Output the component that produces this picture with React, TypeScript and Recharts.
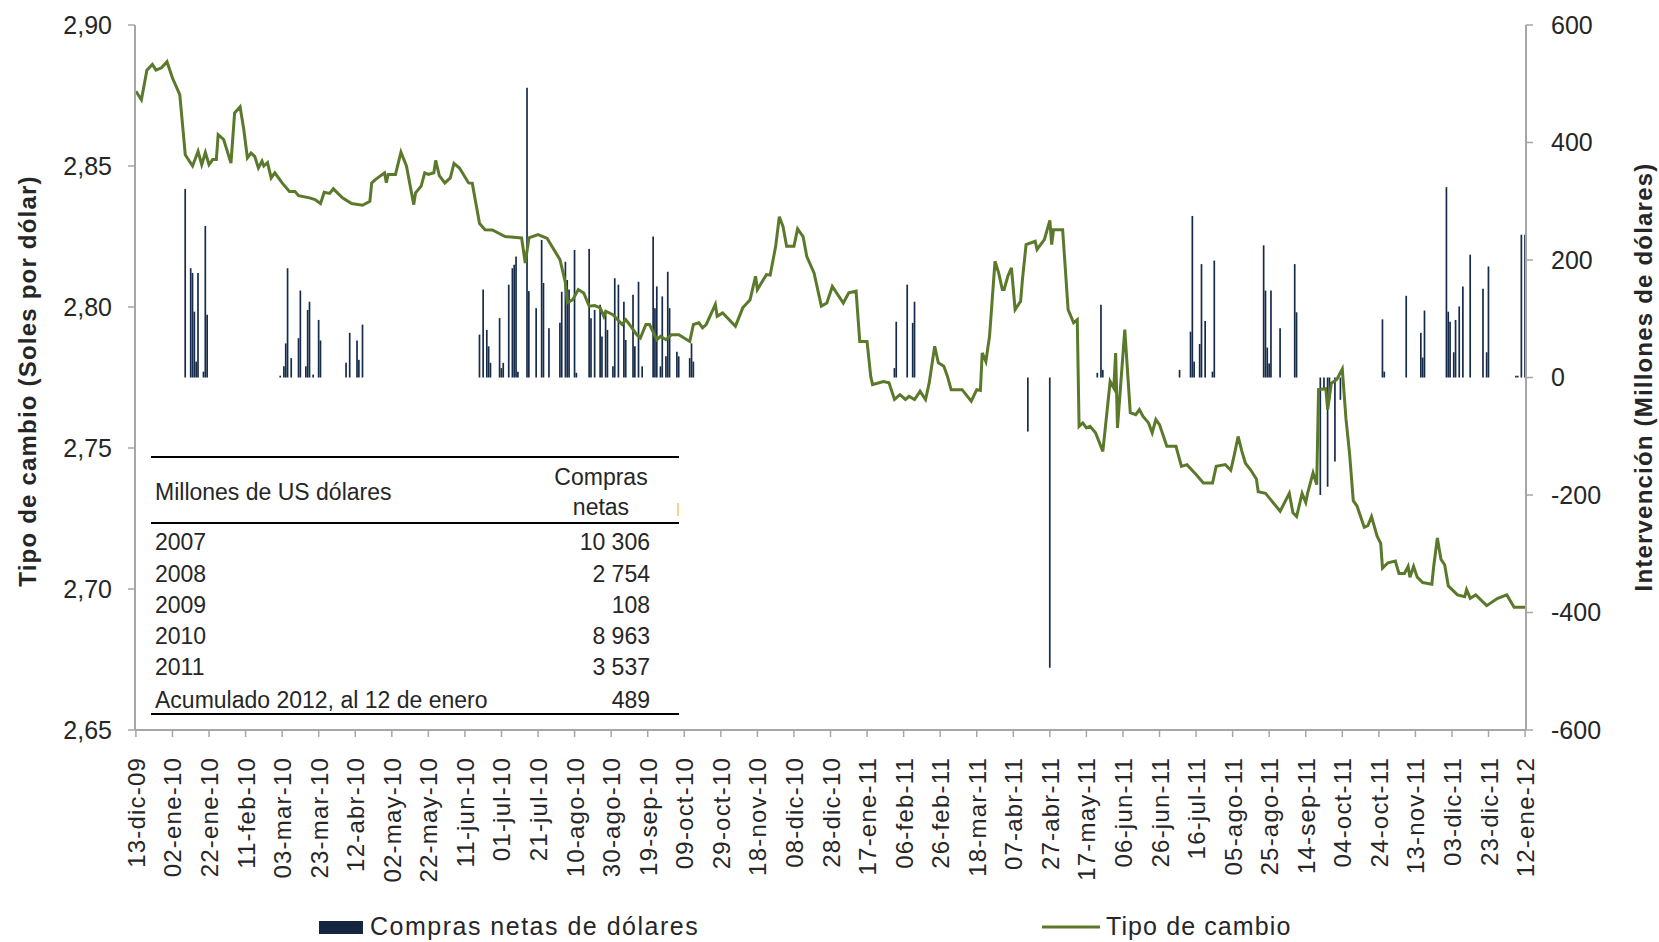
import { ComposedChart, Bar, Line, XAxis, YAxis } from "recharts";

// días desde el 13-dic-09 (0) hasta el 12-ene-12 (760)
const NUM_DIAS = 761;

const tickLabels = [
  "13-dic-09", "02-ene-10", "22-ene-10", "11-feb-10", "03-mar-10", "23-mar-10",
  "12-abr-10", "02-may-10", "22-may-10", "11-jun-10", "01-jul-10", "21-jul-10",
  "10-ago-10", "30-ago-10", "19-sep-10", "09-oct-10", "29-oct-10", "18-nov-10",
  "08-dic-10", "28-dic-10", "17-ene-11", "06-feb-11", "26-feb-11", "18-mar-11",
  "07-abr-11", "27-abr-11", "17-may-11", "06-jun-11", "26-jun-11", "16-jul-11",
  "05-ago-11", "25-ago-11", "14-sep-11", "04-oct-11", "24-oct-11", "13-nov-11",
  "03-dic-11", "23-dic-11", "12-ene-12",
];

const leftTicks = [2.65, 2.7, 2.75, 2.8, 2.85, 2.9];
const rightTicks = [-600, -400, -200, 0, 200, 400, 600];

// [día, soles por dólar]
const tipoCambio: [number, number][] = [
  [0, 2.8765], [3, 2.8735], [6, 2.884], [9, 2.886], [11, 2.884], [14, 2.8848], [17, 2.887],
  [20, 2.8812], [24, 2.8753], [27, 2.854], [31, 2.85], [34, 2.8552], [36, 2.8505], [38, 2.8548],
  [40, 2.8505], [42, 2.8523], [44, 2.8523], [45, 2.8611], [48, 2.8594], [52, 2.851], [54, 2.8688],
  [57, 2.871], [59, 2.863], [61, 2.8529], [63, 2.8546], [65, 2.8534], [67, 2.8493], [69, 2.8517],
  [70, 2.85], [72, 2.8512], [74, 2.8458], [76, 2.8476], [80, 2.844], [84, 2.841], [87, 2.841],
  [89, 2.8395], [95, 2.8387], [98, 2.8381], [101, 2.8367], [103, 2.8407], [106, 2.8403],
  [108, 2.8419], [113, 2.8387], [118, 2.8367], [124, 2.8361], [128, 2.8375], [129, 2.844],
  [131, 2.8452], [136, 2.8476], [137, 2.8441], [138, 2.847], [142, 2.847], [145, 2.8549],
  [148, 2.85], [152, 2.8363], [153, 2.8405], [156, 2.8428], [158, 2.8476], [160, 2.847],
  [163, 2.8476], [164, 2.852], [166, 2.8466], [169, 2.844], [172, 2.8458], [174, 2.8509],
  [177, 2.8493], [182, 2.844], [184, 2.8439], [188, 2.8296], [191, 2.8274], [195, 2.8273],
  [202, 2.825], [211, 2.8245], [213, 2.8156], [215, 2.8245], [220, 2.8257], [225, 2.8243],
  [232, 2.8168], [235, 2.8085], [236, 2.8015], [239, 2.8026], [242, 2.8062], [245, 2.805],
  [248, 2.8003], [251, 2.8005], [254, 2.7997], [256, 2.7967], [257, 2.7985], [261, 2.7973],
  [266, 2.7938], [268, 2.7955], [270, 2.7938], [274, 2.7902], [276, 2.789], [279, 2.7938],
  [281, 2.7938], [285, 2.7884], [287, 2.7896], [290, 2.7884], [293, 2.7902], [297, 2.7902],
  [303, 2.7878], [305, 2.7938], [308, 2.7944], [310, 2.7926], [312, 2.7938], [317, 2.8009],
  [318, 2.7967], [321, 2.7979], [328, 2.7932], [332, 2.7997], [336, 2.8026], [339, 2.8109],
  [340, 2.8062], [345, 2.8115], [347, 2.8113], [350, 2.8215], [352, 2.832], [354, 2.8286],
  [356, 2.8215], [360, 2.8215], [362, 2.8277], [365, 2.825], [367, 2.818], [371, 2.8121],
  [375, 2.8003], [378, 2.8014], [381, 2.8073], [387, 2.8014], [390, 2.805], [394, 2.8056],
  [396, 2.7878], [400, 2.7878], [402, 2.7754], [403, 2.7725], [409, 2.7736], [412, 2.7731],
  [415, 2.7672], [418, 2.7689], [421, 2.7672], [423, 2.7683], [426, 2.7672], [429, 2.7701],
  [432, 2.7672], [434, 2.7731], [437, 2.7861], [439, 2.7802], [442, 2.779], [444, 2.7754],
  [446, 2.7707], [452, 2.7707], [457, 2.7666], [460, 2.7707], [462, 2.7704], [463, 2.7837],
  [465, 2.7807], [467, 2.7896], [470, 2.8162], [472, 2.8121], [474, 2.8062], [475, 2.8062],
  [477, 2.8109], [479, 2.8139], [481, 2.7991], [484, 2.802], [485, 2.8097], [487, 2.8221],
  [492, 2.8233], [493, 2.8204], [497, 2.8239], [500, 2.8307], [501, 2.8221], [502, 2.8274],
  [507, 2.8274], [510, 2.7991], [513, 2.7944], [515, 2.7955], [516, 2.7577], [518, 2.7589],
  [520, 2.7571], [522, 2.7577], [525, 2.7554], [529, 2.7488], [533, 2.7736], [535, 2.7713],
  [536, 2.7837], [537, 2.7571], [541, 2.792], [544, 2.7625], [547, 2.7618], [549, 2.7636],
  [551, 2.7612], [554, 2.7589], [556, 2.7554], [558, 2.7601], [560, 2.7583], [564, 2.7506],
  [569, 2.7506], [572, 2.7435], [575, 2.7441], [580, 2.7406], [584, 2.7376], [589, 2.7376],
  [591, 2.7435], [596, 2.7441], [599, 2.7421], [601, 2.7478], [603, 2.7541], [605, 2.749],
  [607, 2.7446], [610, 2.7421], [613, 2.739], [614, 2.7345], [618, 2.7339], [626, 2.7276],
  [631, 2.7339], [633, 2.727], [635, 2.7257], [638, 2.7339], [640, 2.7307], [641, 2.7339],
  [644, 2.7412], [646, 2.737], [647, 2.7707], [651, 2.771], [652, 2.7636], [654, 2.773],
  [657, 2.7743], [660, 2.778], [662, 2.7604], [664, 2.7478], [666, 2.7313], [668, 2.7295],
  [672, 2.7219], [674, 2.7225], [676, 2.7257], [679, 2.7188], [681, 2.7162], [682, 2.7074],
  [685, 2.7093], [689, 2.7099], [691, 2.7055], [694, 2.7055], [696, 2.708], [697, 2.7042],
  [699, 2.708], [701, 2.7042], [704, 2.7023], [709, 2.7017], [710, 2.708], [712, 2.7181],
  [714, 2.7105], [716, 2.7086], [718, 2.7011], [723, 2.6979], [727, 2.6973], [728, 2.6998],
  [730, 2.6967], [733, 2.6979], [739, 2.6941], [745, 2.6967], [750, 2.6979], [754, 2.6935],
  [760, 2.6935],
];

// [día, millones de US$]
const comprasNetas: [number, number][] = [
  [27, 321], [30, 186], [31, 178], [32, 112], [33, 27], [34, 178], [37, 10], [38, 258], [39, 107],
  [79, 3], [81, 19], [82, 58], [83, 186], [85, 33], [89, 67], [90, 148], [93, 19], [94, 115],
  [95, 129], [97, 5], [100, 98], [101, 63],
  [115, 25], [117, 76], [121, 63], [122, 30], [124, 90],
  [188, 73], [190, 150], [192, 81], [193, 53], [194, 25], [199, 101], [200, 16], [201, 25],
  [204, 158], [206, 186], [207, 192], [208, 206], [209, 10], [214, 493], [215, 147], [219, 118],
  [222, 234], [223, 161], [226, 84], [232, 93], [233, 146], [235, 197], [236, 166], [237, 150],
  [240, 217], [241, 8], [248, 219], [249, 101], [251, 115], [254, 124], [255, 70], [257, 110],
  [258, 81], [261, 19], [262, 169], [264, 158], [267, 129], [268, 64], [272, 141], [273, 53],
  [275, 163], [277, 19], [283, 240], [284, 118], [285, 155], [287, 19], [288, 138], [290, 36],
  [291, 180], [292, 118], [296, 44], [297, 36], [303, 33], [304, 58], [305, 27],
  [415, 16], [416, 95], [422, 158], [425, 93], [426, 129],
  [488, -92], [500, -494],
  [526, 8], [528, 124], [529, 13],
  [571, 13], [577, 78], [578, 275], [579, 27], [582, 57], [583, 193], [585, 96], [589, 10], [590, 199],
  [617, 225], [618, 148], [619, 51], [620, 24], [621, 148], [626, 84], [634, 193], [635, 111],
  [648, -200], [650, -18], [652, -186], [653, -37], [656, -143], [659, -38],
  [682, 99], [683, 10], [695, 139], [703, 76], [704, 34], [705, 114], [717, 324], [718, 112],
  [719, 95], [721, 43], [722, 98], [724, 121], [726, 155], [730, 209], [737, 151], [739, 43],
  [740, 189], [755, 3], [756, 3], [758, 243], [760, 243],
];

const tablaFilas = ["2007", "2008", "2009", "2010", "2011", "Acumulado 2012, al 12 de enero"];
const tablaCompras = ["10 306", "2 754", "108", "8 963", "3 537", "489"];

type Row = { day: number; tc: number | null; compras: number | null };
const data: Row[] = Array.from({ length: NUM_DIAS }, (_, i) => ({ day: i, tc: null, compras: null }));
tipoCambio.forEach(([d, v]) => (data[d].tc = v));
comprasNetas.forEach(([d, v]) => (data[d].compras = v));

const FONT = "'Liberation Sans', Arial, sans-serif";
const AXIS = "#a6a6a6";
const TEXT = "#262626";
const GREEN = "#5a792a";
const NAVY = "#172b4a";

const XTick = (props: any) => {
  const { x, y, payload } = props;
  const label = tickLabels[Math.round(payload.value / 20)];
  const tx = x + 9;
  const ty = y + 18;
  return (
    <text
      x={tx}
      y={ty}
      transform={`rotate(-90, ${tx}, ${ty})`}
      textAnchor="end"
      fontSize={24}
      letterSpacing={1.2}
      fill={TEXT}
      fontFamily={FONT}
    >
      {label}
    </text>
  );
};

const tableRowsY = [550, 582, 613, 644, 675, 708];

export default function App() {
  return (
    <div
      style={{
        position: "absolute",
        left: 0,
        top: 0,
        width: 1659,
        height: 942,
        overflow: "hidden",
        background: "#fff",
      }}
    >
      <ComposedChart
        width={1659}
        height={942}
        data={data}
        margin={{ top: 25, right: 0, bottom: 0, left: 0 }}
        barGap={0}
      >
        <XAxis
          dataKey="day"
          interval={19}
          height={212}
          tick={<XTick />}
          tickSize={7}
          axisLine={{ stroke: AXIS, strokeWidth: 2 }}
          tickLine={{ stroke: AXIS, strokeWidth: 1.5 }}
        />
        <YAxis
          yAxisId="tc"
          orientation="left"
          width={135}
          domain={[2.65, 2.9]}
          ticks={leftTicks}
          allowDataOverflow
          tickFormatter={(v: number) => v.toFixed(2).replace(".", ",")}
          tick={{ fontSize: 25, fill: TEXT, fontFamily: FONT }}
          tickSize={7}
          tickMargin={16}
          axisLine={{ stroke: AXIS, strokeWidth: 2 }}
          tickLine={{ stroke: AXIS, strokeWidth: 1.5 }}
        />
        <YAxis
          yAxisId="int"
          orientation="right"
          width={133}
          domain={[-600, 600]}
          ticks={rightTicks}
          allowDataOverflow
          tick={{ fontSize: 25, fill: TEXT, fontFamily: FONT }}
          tickSize={7}
          tickMargin={18}
          axisLine={{ stroke: AXIS, strokeWidth: 2 }}
          tickLine={{ stroke: AXIS, strokeWidth: 1.5 }}
        />
        <Bar
          yAxisId="int"
          dataKey="compras"
          fill={NAVY}
          barSize={1.7}
          isAnimationActive={false}
        />
        <Line
          yAxisId="tc"
          dataKey="tc"
          type="linear"
          stroke={GREEN}
          strokeWidth={3}
          dot={false}
          activeDot={false}
          connectNulls
          isAnimationActive={false}
        />
      </ComposedChart>

      <svg
        width={1659}
        height={942}
        style={{ position: "absolute", left: 0, top: 0, pointerEvents: "none" }}
        fontFamily={FONT}
      >
        {/* títulos de ejes */}
        <text
          x={27}
          y={381}
          transform="rotate(-90, 27, 381)"
          textAnchor="middle"
          dominantBaseline="central"
          fontSize={24}
          fontWeight="bold"
          letterSpacing={1.2}
          fill={TEXT}
        >
          Tipo de cambio (Soles por dólar)
        </text>
        <text
          x={1643}
          y={377}
          transform="rotate(-90, 1643, 377)"
          textAnchor="middle"
          dominantBaseline="central"
          fontSize={24}
          fontWeight="bold"
          letterSpacing={1.2}
          fill={TEXT}
        >
          Intervención (Millones de dólares)
        </text>

        {/* tabla */}
        <line x1={151} x2={679} y1={457} y2={457} stroke="#000" strokeWidth={2} />
        <line x1={151} x2={679} y1={523} y2={523} stroke="#000" strokeWidth={2} />
        <line x1={151} x2={679} y1={714} y2={714} stroke="#000" strokeWidth={2} />
        <line x1={678} x2={678} y1={503} y2={516} stroke="#f2c46b" strokeWidth={1.5} />
        <text x={155} y={500} fontSize={23} fill={TEXT}>Millones de US dólares</text>
        <text x={601} y={485} fontSize={23} fill={TEXT} textAnchor="middle">Compras</text>
        <text x={601} y={515} fontSize={23} fill={TEXT} textAnchor="middle">netas</text>
        {tablaFilas.map((f, i) => (
          <g key={f}>
            <text x={155} y={tableRowsY[i]} fontSize={23} fill={TEXT}>{f}</text>
            <text x={650} y={tableRowsY[i]} fontSize={23} fill={TEXT} textAnchor="end">
              {tablaCompras[i]}
            </text>
          </g>
        ))}

        {/* leyenda */}
        <rect x={319} y={921} width={44} height={13} fill="#14253f" />
        <text x={370} y={935} fontSize={25} letterSpacing={1.5} fill={TEXT}>
          Compras netas de dólares
        </text>
        <line x1={1042} x2={1100} y1={927} y2={927} stroke={GREEN} strokeWidth={3} />
        <text x={1106} y={935} fontSize={25} letterSpacing={1.1} fill={TEXT}>
          Tipo de cambio
        </text>
      </svg>
    </div>
  );
}
